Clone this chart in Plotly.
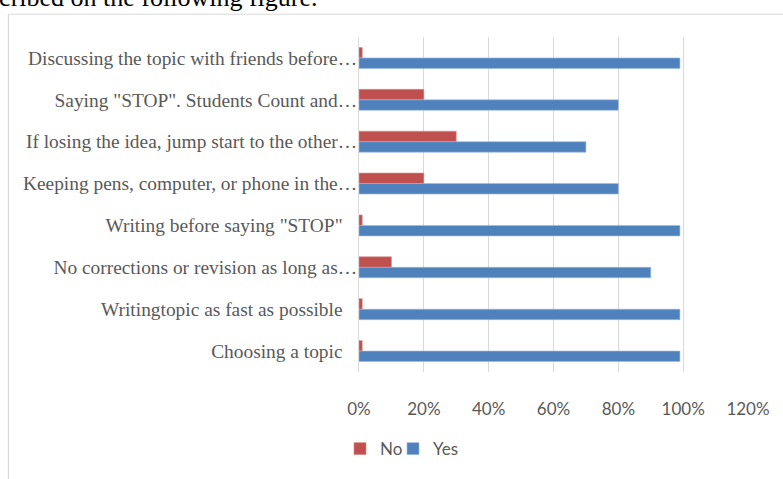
import plotly.graph_objects as go

categories = [
    "Discussing the topic with friends before…",
    "Saying \"STOP\". Students Count and…",
    "If losing the idea, jump start to the other…",
    "Keeping pens, computer, or phone in the…",
    "Writing before saying \"STOP\"\u00a0\u00a0\u00a0",
    "No corrections or revision as long as…",
    "Writingtopic as fast as possible\u00a0\u00a0\u00a0",
    "Choosing a topic\u00a0\u00a0\u00a0",
]
no_values = [0.01, 0.20, 0.30, 0.20, 0.01, 0.10, 0.01, 0.01]
yes_values = [0.99, 0.80, 0.70, 0.80, 0.99, 0.90, 0.99, 0.99]
x_ticks = [0, 0.2, 0.4, 0.6, 0.8, 1.0, 1.2]
x_tick_labels = ["0%", "20%", "40%", "60%", "80%", "100%", "120%"]

W, H = 783, 479
ml, mr, mt, mb = 359, 35, 37, 96
pw, ph = W - ml - mr, H - mt - mb

def px2x(px):
    return (px - ml) / pw

def py2y(py):
    return (H - mb - py) / ph

fig = go.Figure()
fig.add_trace(go.Bar(
    y=categories, x=no_values, name="No", orientation="h", legend="legend",
    marker=dict(color="#C0504D", line=dict(color="#d98b89", width=0.6)),
))
fig.add_trace(go.Bar(
    y=categories, x=yes_values, name="Yes", orientation="h", legend="legend2",
    marker=dict(color="#4F81BD", line=dict(color="#9dbbe0", width=0.6)),
))

legend_font = dict(family="Lato", size=17, color="#595959")

fig.update_layout(
    width=W, height=H, autosize=False,
    margin=dict(l=ml, r=mr, t=mt, b=mb, pad=0),
    paper_bgcolor="white", plot_bgcolor="white",
    barmode="group", bargap=0.5, bargroupgap=0,
    showlegend=True,
    legend=dict(
        orientation="h", x=px2x(340), y=py2y(444), xanchor="left", yanchor="top",
        font=legend_font, itemwidth=30, bgcolor="rgba(0,0,0,0)",
    ),
    legend2=dict(
        orientation="h", x=px2x(393), y=py2y(444), xanchor="left", yanchor="top",
        font=legend_font, itemwidth=30, bgcolor="rgba(0,0,0,0)",
    ),
    xaxis=dict(
        range=[0, 1.2], tickvals=x_ticks, ticktext=x_tick_labels,
        showgrid=True, gridcolor="#d9d9d9", gridwidth=1,
        zeroline=False, showline=False, ticks="",
        tickfont=dict(family="Lato", size=17, color="#595959"),
        ticklabelstandoff=25,
    ),
    yaxis=dict(
        autorange="reversed", type="category",
        showgrid=False, zeroline=False,
        showline=True, linecolor="#d9d9d9", linewidth=1,
        ticks="", tickfont=dict(family="Liberation Serif", size=19.4, color="#595959"),
        ticklabelstandoff=-3,
    ),
    shapes=[dict(
        type="rect", xref="paper", yref="paper",
        x0=px2x(8.5), x1=px2x(800), y0=py2y(13.5), y1=py2y(500),
        line=dict(color="#d9d9d9", width=1.2), fillcolor="rgba(0,0,0,0)", layer="below",
    )],
    annotations=[dict(
        text="scribed on the following figure.", xref="paper", yref="paper",
        x=px2x(-13), y=py2y(13), xanchor="left", yanchor="bottom", showarrow=False,
        font=dict(family="Liberation Serif", size=26, color="#000000"),
    )],
)

fig.write_html(
    "out.html",
    config={"displayModeBar": False},
    post_script="document.body.style.margin='0';document.body.style.padding='0';",
)
